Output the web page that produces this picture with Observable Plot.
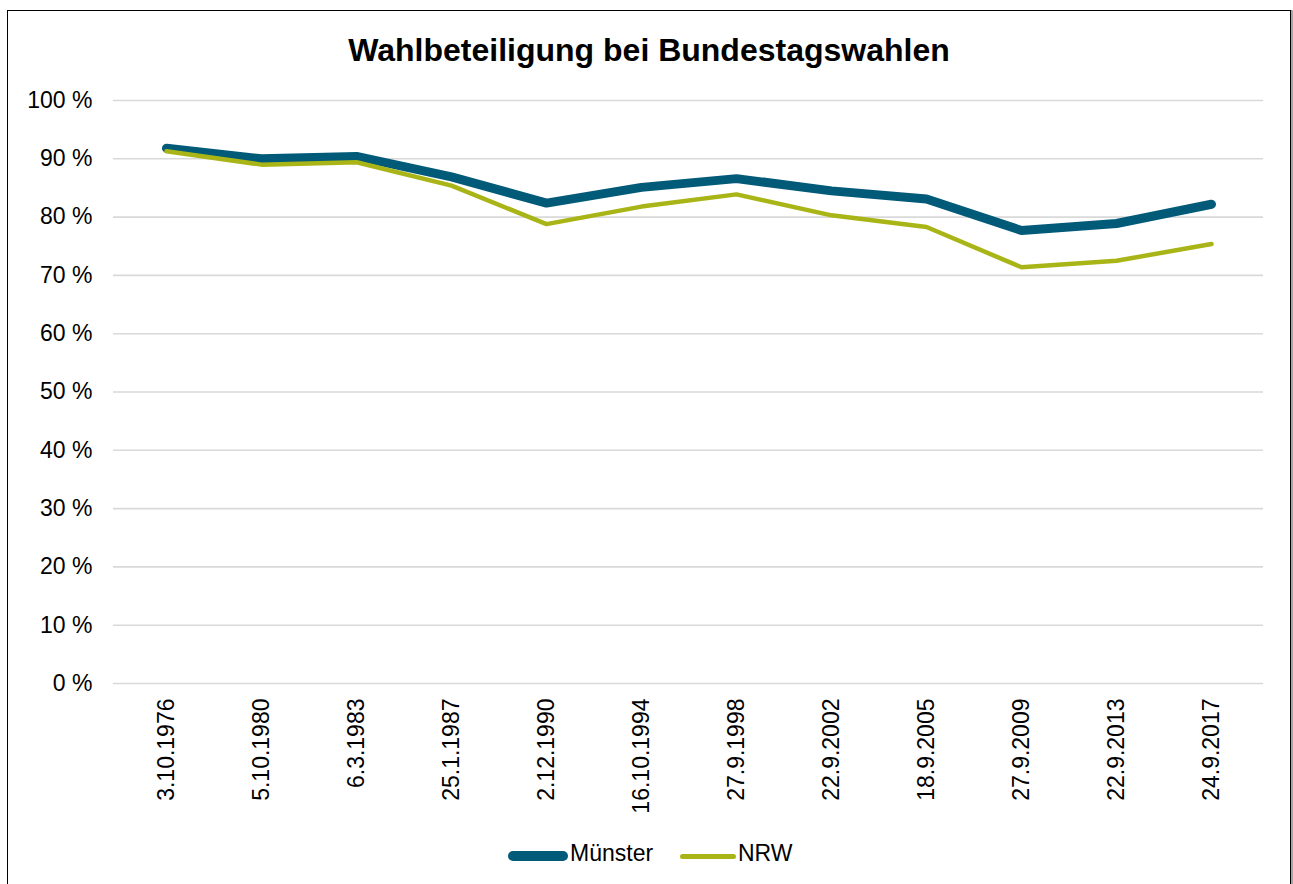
<!DOCTYPE html>
<html>
<head>
<meta charset="utf-8">
<script src="https://cdn.jsdelivr.net/npm/d3@7"></script>
<script src="https://cdn.jsdelivr.net/npm/@observablehq/plot@0.6"></script>
<style>
  html, body { margin: 0; padding: 0; background: #fff; }
  body { width: 1293px; height: 884px; overflow: hidden; position: relative;
         font-family: "Liberation Sans", Arial, sans-serif; color: #000; }
  #frame { position: absolute; left: 7px; top: 10px; width: 1284px; height: 900px;
           box-sizing: border-box; border: 1.6px solid #000; box-shadow: 2px 0 0 #a6a6a6; }
  #title { position: absolute; left: 0; top: 34px; width: 1298px; text-align: center;
           font-size: 32px; line-height: 32px; font-weight: bold; }
  #chart { position: absolute; left: 0; top: 80px; }
  .lg { position: absolute; }
  .lgtext { position: absolute; font-size: 23px; line-height: 23px; top: 842px; }
</style>
</head>
<body>
<div id="frame"></div>
<div id="title">Wahlbeteiligung bei Bundestagswahlen</div>
<div id="chart"></div>
<div id="legend"></div>
<script>
const dates = ["3.10.1976", "5.10.1980", "6.3.1983", "25.1.1987", "2.12.1990", "16.10.1994",
               "27.9.1998", "22.9.2002", "18.9.2005", "27.9.2009", "22.9.2013", "24.9.2017"];
const muenster = [91.8, 90.0, 90.4, 86.9, 82.4, 85.1, 86.6, 84.5, 83.1, 77.7, 78.9, 82.2];
const nrw      = [91.3, 89.0, 89.4, 85.4, 78.8, 81.8, 83.9, 80.3, 78.3, 71.4, 72.5, 75.4];
const yTicks = [0, 10, 20, 30, 40, 50, 60, 70, 80, 90, 100];
const seriesNames = ["Münster", "NRW"];
const seriesColors = ["#005a78", "#a9b516"];

const dataM = dates.map((d, i) => ({date: d, value: muenster[i], series: seriesNames[0]}));
const dataN = dates.map((d, i) => ({date: d, value: nrw[i], series: seriesNames[1]}));

const chart = Plot.plot({
  width: 1293,
  height: 740,
  marginTop: 20,
  marginBottom: 137,
  marginLeft: 113,
  marginRight: 30,
  style: {fontFamily: "'Liberation Sans', Arial, sans-serif", fontSize: "23px", color: "#000", background: "transparent"},
  x: {type: "point", domain: dates, padding: 0.5, align: 0.5},
  y: {domain: [0, 100]},
  marks: [
    Plot.gridY(yTicks, {stroke: "#d9d9d9", strokeOpacity: 1, strokeWidth: 1.6}),
    Plot.axisY(yTicks, {tickSize: 0, tickPadding: 21, fontSize: 23, tickFormat: d => d + " %", label: null}),
    Plot.axisX({tickSize: 0, tickPadding: 15, tickRotate: -90, fontSize: 23, label: null}),
    Plot.line(dataM, {x: "date", y: "value", stroke: seriesColors[0], strokeWidth: 9, strokeLinejoin: "miter", strokeLinecap: "round"}),
    Plot.line(dataN, {x: "date", y: "value", stroke: seriesColors[1], strokeWidth: 4.5, strokeLinejoin: "miter", strokeLinecap: "round"})
  ]
});
document.getElementById("chart").appendChild(chart);

// legend
const legend = document.getElementById("legend");
const lgItems = [
  {name: seriesNames[0], color: seriesColors[0], sx: 508, sw: 60, th: 10, tx: 570},
  {name: seriesNames[1], color: seriesColors[1], sx: 680, sw: 56, th: 5, tx: 738}
];
lgItems.forEach(it => {
  const sw = document.createElement("div");
  sw.className = "lg";
  sw.style.left = it.sx + "px";
  sw.style.width = it.sw + "px";
  sw.style.height = it.th + "px";
  sw.style.top = (856 - it.th / 2) + "px";
  sw.style.background = it.color;
  sw.style.borderRadius = (it.th / 2) + "px";
  legend.appendChild(sw);
  const t = document.createElement("div");
  t.className = "lgtext";
  t.style.left = it.tx + "px";
  t.textContent = it.name;
  legend.appendChild(t);
});
</script>
</body>
</html>
